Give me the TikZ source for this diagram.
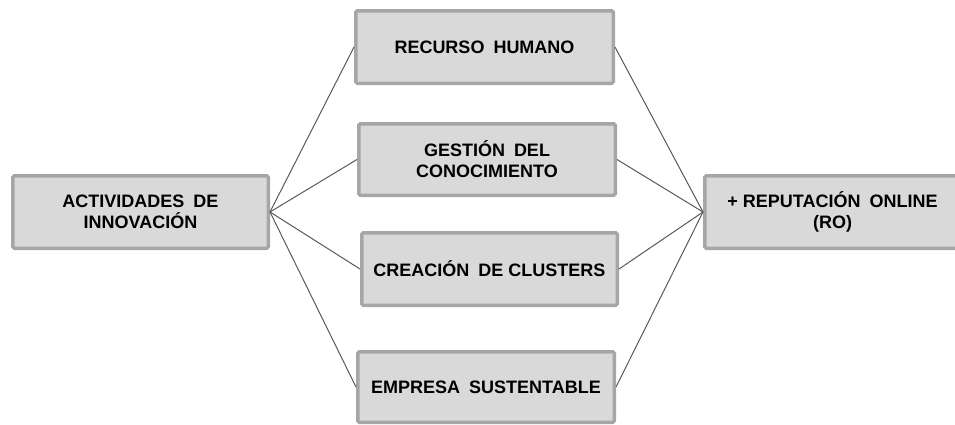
\documentclass[tikz,border=0pt]{standalone}
\usepackage{fontspec}
\setmainfont{Liberation Sans}
\begin{document}
\begin{tikzpicture}[x=1pt,y=-1pt,
  boxn/.style={draw=boxborder,fill=boxfill,line width=3.5pt,rounded corners=1.5pt,
    inner sep=0pt,align=center,font=\fontsize{18}{21}\selectfont\bfseries,text=black},
  conn/.style={draw=linegray,line width=1pt}]
\definecolor{boxborder}{HTML}{A6A6A6}
\definecolor{boxfill}{HTML}{D9D9D9}
\definecolor{linegray}{HTML}{595959}
\useasboundingbox (0,0) rectangle (955,424);
\clip (0,0) rectangle (955,424);
\newcommand{\wsp}{\hspace{0.5em}}
\node[boxn,minimum width=255.5pt,minimum height=72.5pt] (act) at (140.5,212) {ACTIVIDADES\wsp DE\\INNOVACIÓN};
\node[boxn,minimum width=257.5pt,minimum height=72.5pt] (rh) at (484.5,47) {RECURSO\wsp HUMANO};
\node[boxn,minimum width=256.5pt,minimum height=71.5pt] (gc) at (487,159.5) {GESTIÓN\wsp DEL\\CONOCIMIENTO};
\node[boxn,minimum width=255.5pt,minimum height=72.5pt] (cc) at (489.5,269) {CREACIÓN\wsp DE CLUSTERS};
\node[boxn,minimum width=256.5pt,minimum height=70.5pt] (es) at (486,387) {EMPRESA\wsp SUSTENTABLE};
\node[boxn,minimum width=255.5pt,minimum height=72.5pt] (ro) at (832.5,212) {+ REPUTACIÓN\wsp ONLINE\\(RO)};
\foreach \n in {rh,gc,cc,es}{
  \draw[conn] (act.east) -- (\n.west);
  \draw[conn] (\n.east) -- (ro.west);
}
\end{tikzpicture}
\end{document}
